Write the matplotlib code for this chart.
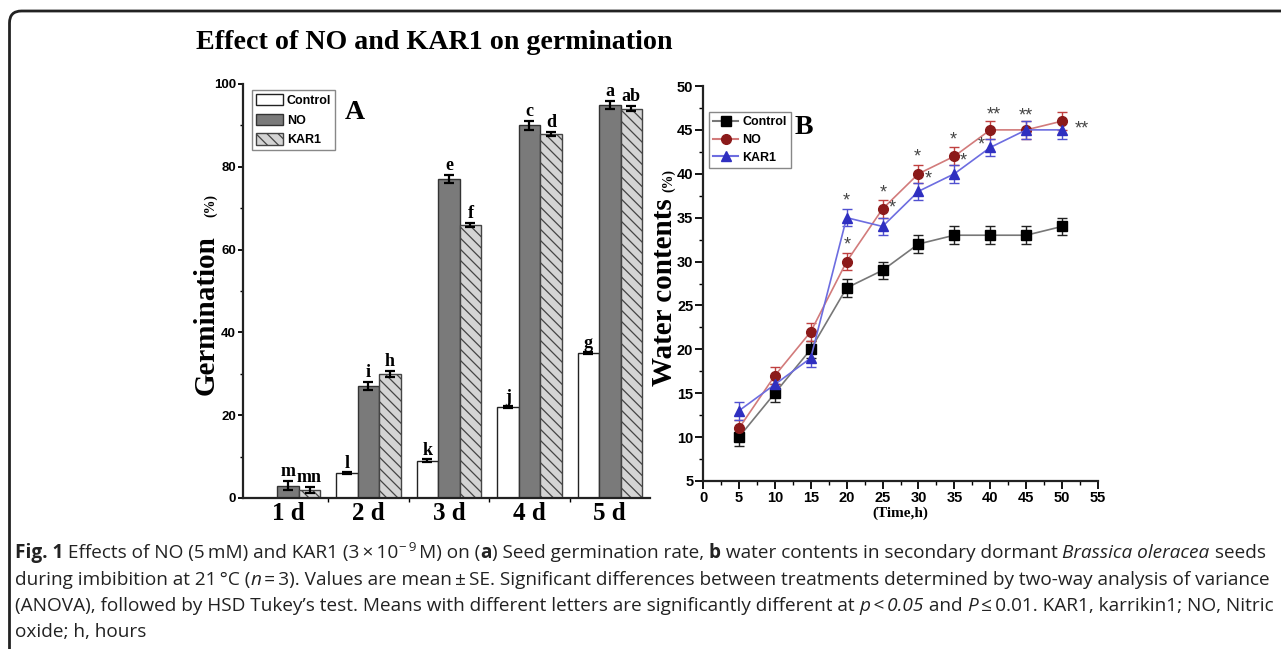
import numpy as np
import matplotlib.pyplot as plt
from matplotlib.patches import Patch, FancyBboxPatch
from matplotlib.lines import Line2D
from matplotlib.transforms import IdentityTransform
from matplotlib.ticker import MultipleLocator, FixedLocator

plt.rcParams['axes.unicode_minus'] = False

# ---- panel A: germination (%) per day ----
days = ['1 d', '2 d', '3 d', '4 d', '5 d']
ctrl = [0, 6, 9, 22, 35]
ctrl_err = [0, 0.3, 0.3, 0.3, 0.3]
no_g = [3, 27, 77, 90, 95]
no_g_err = [1.0, 1.0, 1.0, 1.0, 1.0]
kar_g = [2, 30, 66, 88, 94]
kar_g_err = [0.7, 0.7, 0.5, 0.5, 0.6]
ctrl_let = ['', 'l', 'k', 'j', 'g']
no_let = ['m', 'i', 'e', 'c', 'a']
kar_let = ['mn', 'h', 'f', 'd', 'ab']

# ---- panel B: water contents (%) over time ----
hours = [5, 10, 15, 20, 25, 30, 35, 40, 45, 50]
wc_ctrl = [10, 15, 20, 27, 29, 32, 33, 33, 33, 34]
wc_no = [11, 17, 22, 30, 36, 40, 42, 45, 45, 46]
wc_kar = [13, 16, 19, 35, 34, 38, 40, 43, 45, 45]
wc_err = [1, 1, 1, 1, 1, 1, 1, 1, 1, 1]
# significance marks (x, y, text)
star_x = [19.9, 20.1, 25.1, 26.4, 29.9, 31.3, 34.9, 36.3, 38.7, 40.5, 44.9, 52.7]
star_y = [36.9, 31.9, 37.8, 36.1, 41.9, 39.4, 43.9, 41.5, 43.3, 46.7, 46.6, 45.1]
star_txt = ['*', '*', '*', '*', '*', '*', '*', '*', '*', '**', '**', '**']

W, H = 1281, 649
fig = plt.figure(figsize=(W / 100, H / 100), dpi=100)

sans = ['Liberation Sans', 'DejaVu Sans']
serif = ['Liberation Serif', 'DejaVu Serif']

# rounded frame around the whole figure
frame = FancyBboxPatch((9.5, -30), 1400, 649 - 11 + 30, boxstyle='round,pad=0,rounding_size=12',
                       transform=IdentityTransform(), fill=False, ec='#222222', lw=2.0)
fig.add_artist(frame)

fig.text(434 / W, 1 - 49 / H, 'Effect of NO and KAR1 on germination', ha='center', va='baseline',
         family=serif, weight='bold', size=20.2)

# ================= Panel A =================
axA = fig.add_axes([243 / W, 1 - 498 / H, (650 - 243) / W, (498 - 84) / H])
x = np.arange(1, 6)
w = 0.267
bar_kw = dict(width=w, lw=1.0)
axA.bar(x - w, ctrl, color='white', edgecolor='#222222', **bar_kw)
axA.bar(x, no_g, color='#7a7a7a', edgecolor='#333333', **bar_kw)
plt.rcParams['hatch.color'] = '#555555'
plt.rcParams['hatch.linewidth'] = 0.9
axA.bar(x + w, kar_g, color='#d4d4d4', edgecolor='#444444', hatch='\\\\\\', **bar_kw)

eb_kw = dict(fmt='none', ecolor='black', elinewidth=1.6, capsize=3.5, capthick=1.6)
cmask = np.array(ctrl) > 0
axA.errorbar((x - w)[cmask], np.array(ctrl)[cmask], yerr=np.array(ctrl_err)[cmask], **eb_kw)
axA.errorbar(x, no_g, yerr=no_g_err, **eb_kw)
axA.errorbar(x + w, kar_g, yerr=kar_g_err, **eb_kw)

let_kw = dict(ha='center', va='baseline', family=serif, weight='bold', size=13)
for i in range(5):
    if ctrl_let[i]:
        axA.text(x[i] - w, ctrl[i] + ctrl_err[i] + 1.0, ctrl_let[i], **let_kw)
    axA.text(x[i], no_g[i] + no_g_err[i] + 1.2, no_let[i], **let_kw)
    axA.text(x[i] + w, kar_g[i] + kar_g_err[i] + 1.2, kar_let[i], **let_kw)

axA.set_xlim(0.44, 5.5)
axA.set_ylim(0, 100)
axA.set_xticks(x)
axA.set_xticklabels(days, family=serif, weight='bold', size=18)
axA.xaxis.set_minor_locator(FixedLocator([1.5, 2.5, 3.5, 4.5]))
axA.set_yticks([0, 20, 40, 60, 80, 100])
axA.yaxis.set_minor_locator(MultipleLocator(10))
axA.tick_params(axis='x', which='major', length=0, pad=3)
axA.tick_params(axis='x', which='minor', length=3, width=1.0, direction='out')
axA.tick_params(axis='y', which='major', length=3.5, width=1.3, direction='out', pad=1.5)
axA.tick_params(axis='y', which='minor', length=2.5, width=1.0, direction='out')
for lab in axA.get_yticklabels():
    lab.set(family=sans, weight='bold', size=9.5)
for s in ['top', 'right']:
    axA.spines[s].set_visible(False)
for s in ['left', 'bottom']:
    axA.spines[s].set_linewidth(1.6)
    axA.spines[s].set_color('#222222')

fig.text(206 / W, 1 - 315 / H, 'Germination', rotation=90, ha='center', va='center',
         family=serif, weight='bold', size=21)
fig.text(211 / W, 1 - 206 / H, '(%)', rotation=90, ha='center', va='center',
         family=serif, weight='bold', size=10)

legA = [Patch(facecolor='white', edgecolor='#222222', label='Control'),
        Patch(facecolor='#7a7a7a', edgecolor='#333333', label='NO'),
        Patch(facecolor='#d4d4d4', edgecolor='#444444', hatch='\\\\\\', label='KAR1')]
axA.legend(handles=legA, loc='upper left', bbox_to_anchor=(0.022, 0.985), frameon=True,
           fancybox=False, edgecolor='#888888', framealpha=1, handlelength=2.2, handleheight=1.0,
           handletextpad=0.3, borderpad=0.3, labelspacing=0.55, borderaxespad=0,
           prop=dict(family=sans, weight='bold', size=9))
axA.text(0.275, 0.93, 'A', transform=axA.transAxes, ha='center', va='center',
         family=serif, weight='bold', size=20)

# ================= Panel B =================
axB = fig.add_axes([703 / W, 1 - 481 / H, (1098 - 703) / W, (481 - 86) / H])
err_kw = dict(elinewidth=1.0, capsize=3.5, capthick=1.0, lw=1.2, ms=7)
axB.errorbar(hours, wc_ctrl, yerr=wc_err, color='#777777', ecolor='#222222', marker='s',
             mfc='black', mec='black', label='Control', **err_kw)
axB.errorbar(hours, wc_no, yerr=wc_err, color='#d27b7b', ecolor='#c04040', marker='o',
             mfc='#8b1a1a', mec='#8b1a1a', label='NO', **err_kw)
axB.errorbar(hours, wc_kar, yerr=wc_err, color='#6d6de0', ecolor='#5050d0', marker='^',
             mfc='#2f2fc0', mec='#2f2fc0', label='KAR1', **err_kw)

for sx, sy, st in zip(star_x, star_y, star_txt):
    axB.text(sx, sy, st, ha='center', va='center', color='#444444', size=13, family=sans)

axB.set_xlim(0, 55)
axB.set_ylim(5, 50)
axB.xaxis.set_major_locator(MultipleLocator(5))
axB.xaxis.set_minor_locator(MultipleLocator(2.5))
axB.yaxis.set_major_locator(MultipleLocator(5))
axB.yaxis.set_minor_locator(MultipleLocator(2.5))
axB.tick_params(which='major', length=5.5, width=1.3, direction='out', pad=1.5)
axB.tick_params(which='minor', length=3, width=1.0, direction='out')
for lab in axB.get_xticklabels() + axB.get_yticklabels():
    lab.set(family=sans, weight='bold', size=10.5)
for s in ['top', 'right']:
    axB.spines[s].set_visible(False)
for s in ['left', 'bottom']:
    axB.spines[s].set_linewidth(1.6)
    axB.spines[s].set_color('#222222')
axB.set_xlabel('(Time,h)', family=serif, weight='bold', size=11, labelpad=1)

fig.text(664 / W, 1 - 292 / H, 'Water contents', rotation=90, ha='center', va='center',
         family=serif, weight='bold', size=21)
fig.text(669 / W, 1 - 181 / H, '(%)', rotation=90, ha='center', va='center',
         family=serif, weight='bold', size=10)

legB = [Line2D([], [], color='#777777', marker='s', mfc='black', mec='black', ms=7, label='Control'),
        Line2D([], [], color='#d27b7b', marker='o', mfc='#8b1a1a', mec='#8b1a1a', ms=7, label='NO'),
        Line2D([], [], color='#6d6de0', marker='^', mfc='#2f2fc0', mec='#2f2fc0', ms=7, label='KAR1')]
axB.legend(handles=legB, loc='upper left', bbox_to_anchor=(0.015, 0.934), frameon=True,
           fancybox=False, edgecolor='#888888', framealpha=1, handlelength=2.0,
           handletextpad=0.3, borderpad=0.35, labelspacing=0.45, borderaxespad=0,
           prop=dict(family=sans, weight='bold', size=9))
axB.text(0.256, 0.895, 'B', transform=axB.transAxes, ha='center', va='center',
         family=serif, weight='bold', size=20)

# ================= Caption =================
cap_font = ['Open Sans', 'DejaVu Sans']
cap_size = 13.7
renderer = fig.canvas.get_renderer()


def write_line(y_px, pieces, x_px=15):
    """Draw a line of caption text made of (text, style) pieces."""
    xx = x_px
    for txt, style in pieces:
        kw = dict(family=cap_font, size=cap_size, color='#222222')
        dy = 0
        if style == 'b':
            kw['weight'] = 'bold'
        elif style == 'i':
            kw['style'] = 'italic'
        elif style == 'sup':
            kw['size'] = cap_size * 0.7
            dy = 7
        t = fig.text(xx / W, 1 - (y_px - dy) / H, txt, ha='left', va='baseline', **kw)
        bb = t.get_window_extent(renderer)
        xx += bb.width


write_line(558, [('Fig. 1', 'b'), (' Effects of NO (5\u2009mM) and KAR1 (3\u2009\u00d7\u200910', 'n'),
                 ('\u2212\u20099', 'sup'), ('\u2009M) on (', 'n'), ('a', 'b'),
                 (') Seed germination rate, ', 'n'), ('b', 'b'),
                 (' water contents in secondary dormant ', 'n'), ('Brassica oleracea', 'i'),
                 (' seeds', 'n')])
write_line(585, [('during imbibition at 21\u2009\u00b0C (', 'n'), ('n', 'i'),
                 ('\u2009=\u20093). Values are mean\u2009\u00b1\u2009SE. Significant differences between '
                  'treatments determined by two-way analysis of variance', 'n')])
write_line(611, [('(ANOVA), followed by HSD Tukey\u2019s test. Means with different letters are '
                  'significantly different at ', 'n'), ('p\u2009<\u20090.05', 'i'), (' and ', 'n'),
                 ('P', 'i'), ('\u2009\u2264\u20090.01. KAR1, karrikin1; NO, Nitric', 'n')])
write_line(637, [('oxide; h, hours', 'n')])

fig.savefig('out.png', dpi=100)
